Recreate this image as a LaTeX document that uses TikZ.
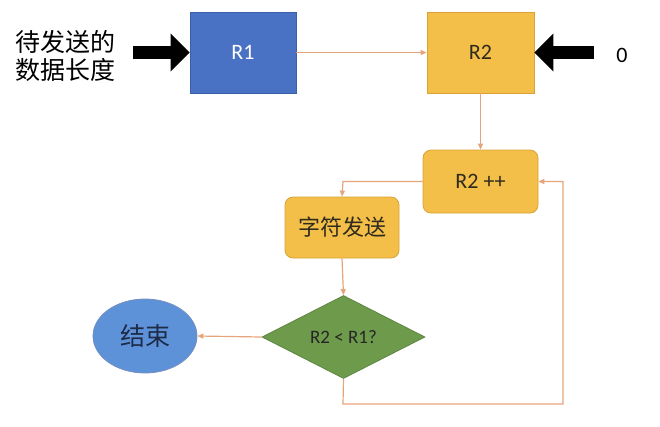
\documentclass[tikz,border=0pt]{standalone}
\usepackage{fontspec}
\setmainfont{Carlito}
\newfontfamily\cjk{Noto Sans CJK SC}
\usetikzlibrary{arrows.meta,shapes.geometric}
\definecolor{rblue}{HTML}{4A72C4}
\definecolor{rblueb}{HTML}{3C5FA8}
\definecolor{eblue}{HTML}{5E92D8}
\definecolor{ebluet}{HTML}{1E2B48}
\definecolor{ryel}{HTML}{F3BF48}
\definecolor{ryelb}{HTML}{D9A234}
\definecolor{rgreen}{HTML}{6E9A4C}
\definecolor{rgreenb}{HTML}{5E8640}
\definecolor{flow}{HTML}{E6A47A}
\definecolor{dtext}{HTML}{2E2A1E}
\tikzset{
  x=1pt, y=-1pt,
  box/.style={draw, line width=0.8pt, inner sep=0pt, align=center},
  bluebox/.style={box, fill=rblue, draw=rblueb, text=white, font=\fontsize{22}{24}\selectfont},
  yelbox/.style={box, fill=ryel, draw=ryelb, text=dtext},
  flowline/.style={draw=flow, line width=1.2pt, -{Triangle[length=6pt,width=5pt]}},
  fatarrow/.style={draw=black, line width=13pt, -{Triangle[length=19pt,width=37pt]}},
}
\begin{document}
\begin{tikzpicture}
\useasboundingbox (0,0) rectangle (660,426);
% nodes
\node[bluebox, minimum width=106pt, minimum height=81pt] (r1) at (243,52.5) {R1};
\node[yelbox, minimum width=107pt, minimum height=81pt, font=\fontsize{22}{24}\selectfont] (r2) at (480.5,52.5) {R2};
\node[yelbox, rounded corners=8pt, minimum width=115pt, minimum height=63pt, font=\fontsize{22}{24}\selectfont] (inc) at (480.5,181.5) {R2 ++};
\node[yelbox, rounded corners=8pt, minimum width=114pt, minimum height=61pt, font=\cjk\fontsize{22}{24}\selectfont] (send) at (342,227.5) {字符发送};
\node[diamond, draw=rgreenb, fill=rgreen, line width=0.8pt, inner sep=0pt, aspect=2, minimum width=163pt, minimum height=83pt, text=black!85, font=\fontsize{19}{21}\selectfont] (cmp) at (343.5,337) {R2 < R1?};
\node[ellipse, draw=rblueb!70, fill=eblue, line width=0.8pt, minimum width=104pt, minimum height=74pt, inner sep=0pt, text=ebluet, font=\cjk\fontsize{25}{27}\selectfont] (end) at (145,336) {结束};
\node[align=left, font=\cjk\fontsize{25}{28}\selectfont, inner sep=0pt] (lbl) at (65,56) {待发送的\\数据长度};
\node[font=\fontsize{22}{24}\selectfont, inner sep=0pt] (zero) at (622,55) {0};
% coordinates
\coordinate (inL) at (133,52.5);
\coordinate (inR) at (594,52.5);
\coordinate (c1) at (343,181.5);
\coordinate (c2) at (343,404);
\coordinate (c3) at (563,404);
\coordinate (c4) at (563,181.5);
% connectors
\draw[fatarrow] (inL) -- (r1.west);
\draw[fatarrow] (inR) -- (r2.east);
\draw[flowline] (r1.east) -- (r2.west);
\draw[flowline] (r2.south) -- (inc.north);
\draw[flowline] (inc.west) -- (c1) -- (send.north);
\draw[flowline] (send.south) -- (cmp.north);
\draw[flowline] (cmp.west) -- (end.east);
\draw[flowline] (cmp.south) -- (c2) -- (c3) -- (c4) -- (inc.east);
\end{tikzpicture}
\end{document}
